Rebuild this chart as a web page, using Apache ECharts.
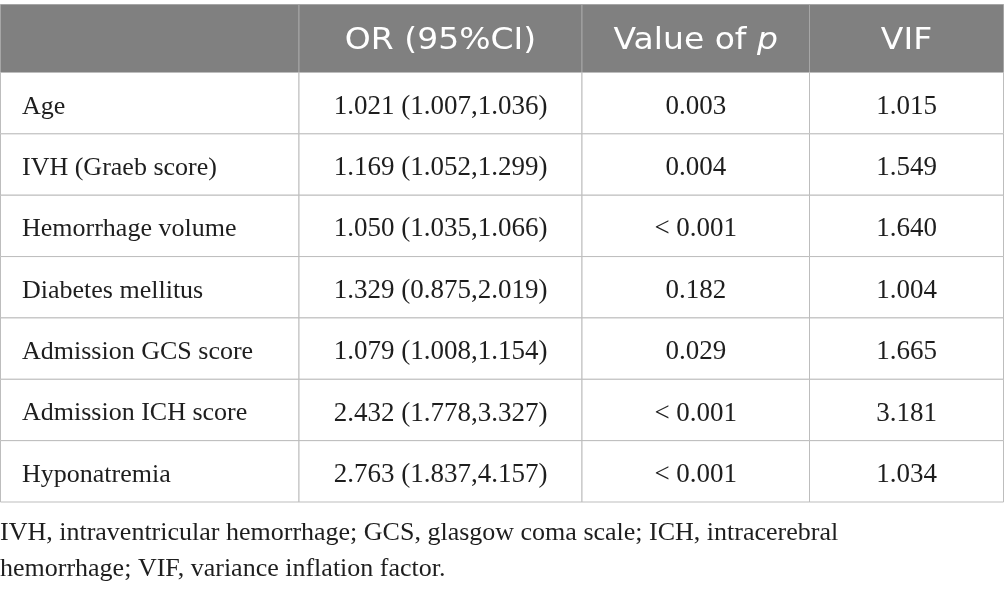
<!DOCTYPE html>
<html>
<head>
<meta charset="utf-8">
<style>
  html, body { margin: 0; padding: 0; background: #fff; }
  #main { width: 1005px; height: 592px; }
</style>
<script src="https://cdn.jsdelivr.net/npm/echarts@6.0.0/dist/echarts.min.js"></script>
</head>
<body>
<div id="main"></div>
<script>
// table data
var headers = ['', 'OR (95%CI)', 'Value of {i|p}', 'VIF'];
var rowLabels = ['Age', 'IVH (Graeb score)', 'Hemorrhage volume', 'Diabetes mellitus',
                 'Admission GCS score', 'Admission ICH score', 'Hyponatremia'];
var orValues = [1.021, 1.169, 1.050, 1.329, 1.079, 2.432, 2.763];
var ciLow    = [1.007, 1.052, 1.035, 0.875, 1.008, 1.778, 1.837];
var ciHigh   = [1.036, 1.299, 1.066, 2.019, 1.154, 3.327, 4.157];
var pValues  = ['0.003', '0.004', '< 0.001', '0.182', '0.029', '< 0.001', '< 0.001'];
var vifValues = [1.015, 1.549, 1.640, 1.004, 1.665, 3.181, 1.034];
var footnote = 'IVH, intraventricular hemorrhage; GCS, glasgow coma scale; ICH, intracerebral\nhemorrhage; VIF, variance inflation factor.';

// column edges on the hidden x axis (layout only)
var colEdges = [0, 298.5, 581.5, 809, 1003];

var lineColor = '#bdbdbd';
var serif = '"Liberation Serif", "DejaVu Serif", serif';
var sans = '"DejaVu Sans", "Open Sans", sans-serif';

// build cells from the arrays
var bodyCells = [];
rowLabels.forEach(function (label, r) {
    var texts = [
        label,
        orValues[r].toFixed(3) + ' (' + ciLow[r].toFixed(3) + ',' + ciHigh[r].toFixed(3) + ')',
        pValues[r],
        vifValues[r].toFixed(3)
    ];
    texts.forEach(function (t, c) {
        bodyCells.push({ value: [c, r], text: t });
    });
});
var headCells = headers.map(function (t, c) {
    return { value: [c, 0], text: t };
});

function cellRect(api, col, row) {
    var p0 = api.coord([colEdges[col], row]);
    var p1 = api.coord([colEdges[col + 1], row]);
    var h = api.size([0, 1])[1];
    return { x: p0[0], y: p0[1] - h / 2, width: p1[0] - p0[0], height: h };
}

function renderBody(params, api) {
    var col = api.value(0), row = api.value(1);
    var r = cellRect(api, col, row);
    var left = col === 0;
    return {
        type: 'group',
        children: [
            { type: 'rect', shape: r, style: { fill: '#fff', stroke: lineColor, lineWidth: 1 } },
            {
                type: 'text',
                style: {
                    text: bodyCells[params.dataIndex].text,
                    x: left ? r.x + 21.5 : r.x + r.width / 2,
                    y: r.y + r.height / 2 + 3.5,
                    align: left ? 'left' : 'center',
                    verticalAlign: 'middle',
                    fill: '#1e1e1e',
                    font: (left ? '26px ' : '27px ') + serif
                }
            }
        ]
    };
}

function renderHead(params, api) {
    var col = api.value(0), row = api.value(1);
    var r = cellRect(api, col, row);
    var cx = r.x + r.width / 2, cy = r.y + r.height / 2 + 3;
    return {
        type: 'group',
        children: [
            { type: 'rect', shape: r, style: { fill: '#808080', stroke: '#a6a6a6', lineWidth: 1 } },
            {
                type: 'text',
                x: cx, y: cy,
                scaleX: 1.1,
                style: {
                    text: headCells[params.dataIndex].text,
                    x: 0, y: 0,
                    align: 'center',
                    verticalAlign: 'middle',
                    fill: '#ffffff',
                    fontSize: 30,
                    fontFamily: sans,
                    rich: {
                        i: { fill: '#ffffff', fontSize: 30, fontFamily: sans, fontStyle: 'italic' }
                    }
                }
            }
        ]
    };
}

var myChart = echarts.init(document.getElementById('main'));
var hiddenValueAxis = function (gi) {
    return { type: 'value', gridIndex: gi, min: 0, max: 1003, show: false };
};
var option = {
    animation: false,
    grid: [
        { left: 0.5, right: 1.5, top: 4.5, height: 68 },
        { left: 0.5, right: 1.5, top: 72.5, height: 429.5 }
    ],
    xAxis: [hiddenValueAxis(0), hiddenValueAxis(1)],
    yAxis: [
        { type: 'category', gridIndex: 0, data: ['head'], show: false, inverse: true },
        { type: 'category', gridIndex: 1, data: rowLabels, show: false, inverse: true }
    ],
    title: {
        text: footnote,
        left: -5,
        top: 510,
        textStyle: {
            fontFamily: serif,
            fontSize: 26,
            fontWeight: 'normal',
            color: '#1e1e1e',
            lineHeight: 36
        }
    },
    series: [
        {
            type: 'custom', xAxisIndex: 0, yAxisIndex: 0, silent: true,
            renderItem: renderHead, data: headCells
        },
        {
            type: 'custom', xAxisIndex: 1, yAxisIndex: 1, silent: true,
            renderItem: renderBody, data: bodyCells
        }
    ]
};
myChart.setOption(option);
</script>
</body>
</html>
